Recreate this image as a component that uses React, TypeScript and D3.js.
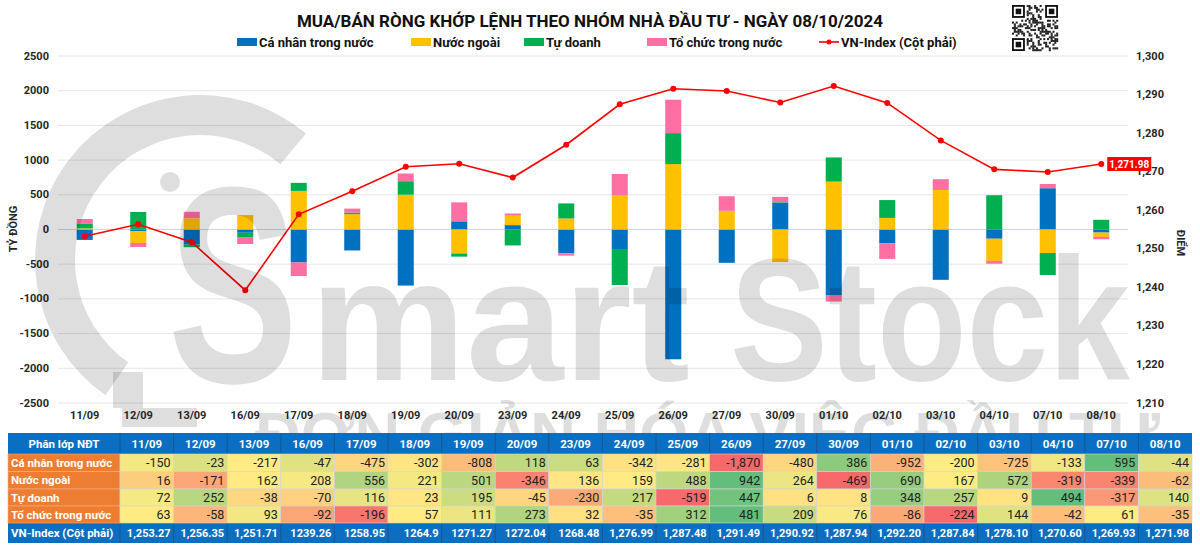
import React, { useEffect, useRef } from "react";
import * as d3 from "d3";

const dates = ["11/09","12/09","13/09","16/09","17/09","18/09","19/09","20/09","23/09","24/09","25/09","26/09","27/09","30/09","01/10","02/10","03/10","04/10","07/10","08/10"];
const caNhan = [-150,-23,-217,-47,-475,-302,-808,118,63,-342,-281,-1870,-480,386,-952,-200,-725,-133,595,-44];
const nuocNgoai = [16,-171,162,208,556,221,501,-346,136,159,488,942,264,-469,690,167,572,-319,-339,-62];
const tuDoanh = [72,252,-38,-70,116,23,195,-45,-230,217,-519,447,6,8,348,257,9,494,-317,140];
const toChuc = [63,-58,93,-92,-196,57,111,273,32,-35,312,481,209,76,-86,-224,144,-42,61,-35];
const vnIndex = [1253.27,1256.35,1251.71,1239.26,1258.95,1264.9,1271.27,1272.04,1268.48,1276.99,1287.48,1291.49,1290.92,1287.94,1292.2,1287.84,1278.1,1270.6,1269.93,1271.98];
const vnIndexLabels = ["1,253.27","1,256.35","1,251.71","1239.26","1258.95","1264.9","1271.27","1272.04","1268.48","1,276.99","1,287.48","1,291.49","1,290.92","1,287.94","1,292.20","1,287.84","1,278.10","1,270.60","1,269.93","1,271.98"];
const seriesNames = ["Cá nhân trong nước","Nước ngoài","Tự doanh","Tổ chức trong nước"];
const seriesColors = ["#0070C0","#FFC000","#00B050","#FF6FA3"];
const lineName = "VN-Index (Cột phải)";
const leftTicks = [2500,2000,1500,1000,500,0,-500,-1000,-1500,-2000,-2500];
const rightTicks = [1300,1290,1280,1270,1260,1250,1240,1230,1220,1210];
const title = "MUA/BÁN RÒNG KHỚP LỆNH THEO NHÓM NHÀ ĐẦU TƯ - NGÀY 08/10/2024";

const FONT = "Roboto, 'Noto Sans', Arial, sans-serif";
const WM_FONT = "'Liberation Sans', Arial, sans-serif";

export default function App() {
  const ref = useRef<SVGSVGElement | null>(null);
  useEffect(() => {
    const svg = d3.select(ref.current as SVGSVGElement);
    svg.selectAll("*").remove();
    const X0 = 58, X1 = 1128, YT = 56, YB = 403;
    const fmt = d3.formatLocale({ decimal: ".", thousands: ",", grouping: [3], currency: ["", ""], minus: "-" }).format(",");

    const x = d3.scaleBand<string>().domain(dates).range([X0, X1]).paddingInner(0.7).paddingOuter(0.35);
    const yL = d3.scaleLinear().domain([-2500, 2500]).range([YB, YT]);
    const yR = d3.scaleLinear().domain([1210, 1300]).range([YB, YT]);
    const cx = (d: string) => (x(d) as number) + x.bandwidth() / 2;

    svg.append("rect").attr("width", 1200).attr("height", 553).attr("fill", "#fff");

    // gridlines
    svg.append("g").selectAll("line").data(leftTicks).join("line")
      .attr("x1", X0).attr("x2", X1).attr("y1", (d) => yL(d)).attr("y2", (d) => yL(d))
      .attr("stroke", (d) => (d === 0 ? "#cdd6e4" : "#e6e6e6")).attr("stroke-width", 1);

    // left ticks
    svg.append("g").selectAll("text").data(leftTicks).join("text")
      .attr("x", 49).attr("y", (d) => yL(d)).attr("text-anchor", "end").attr("dominant-baseline", "central")
      .attr("font-family", FONT).attr("font-size", 11).attr("font-weight", 700).attr("fill", "#262626")
      .text((d) => String(d));
    // right ticks
    svg.append("g").selectAll("text").data(rightTicks).join("text")
      .attr("x", 1136).attr("y", (d) => yR(d)).attr("text-anchor", "start").attr("dominant-baseline", "central")
      .attr("font-family", FONT).attr("font-size", 11).attr("font-weight", 700).attr("fill", "#262626")
      .text((d) => fmt(d));
    // axis titles
    svg.append("text").attr("transform", "translate(13,229) rotate(-90)").attr("text-anchor", "middle")
      .attr("dominant-baseline", "central").attr("font-family", FONT).attr("font-size", 11).attr("font-weight", 700)
      .attr("fill", "#262626").text("TỶ ĐỒNG");
    svg.append("text").attr("transform", "translate(1180,243) rotate(90)").attr("text-anchor", "middle")
      .attr("dominant-baseline", "central").attr("font-family", FONT).attr("font-size", 11).attr("font-weight", 700)
      .attr("fill", "#262626").text("ĐIỂM");

    // stacked bars
    const rows = dates.map((d, i) => ({ date: d, s0: caNhan[i], s1: nuocNgoai[i], s2: tuDoanh[i], s3: toChuc[i] }));
    const keys = ["s0", "s1", "s2", "s3"];
    const stacked = d3.stack<any>().keys(keys).offset(d3.stackOffsetDiverging)(rows);
    const gb = svg.append("g");
    stacked.forEach((layer, li) => {
      gb.append("g").attr("fill", seriesColors[li]).selectAll("rect").data(layer).join("rect")
        .attr("x", (d: any) => x(d.data.date) as number)
        .attr("width", x.bandwidth())
        .attr("y", (d: any) => yL(Math.max(d[0], d[1])))
        .attr("height", (d: any) => Math.abs(yL(d[0]) - yL(d[1])));
    });

    // line
    const pts = dates.map((d, i) => [cx(d), yR(vnIndex[i])] as [number, number]);
    svg.append("path").attr("d", d3.line()(pts) as string).attr("fill", "none").attr("stroke", "#FF0000").attr("stroke-width", 1.6);
    svg.append("g").selectAll("circle").data(pts).join("circle")
      .attr("cx", (d) => d[0]).attr("cy", (d) => d[1]).attr("r", 3).attr("fill", "#FF0000");
    const last = pts[pts.length - 1];
    svg.append("rect").attr("x", last[0] + 6).attr("y", last[1] - 7).attr("width", 44).attr("height", 14).attr("fill", "#FF0000");
    svg.append("text").attr("x", last[0] + 28).attr("y", last[1]).attr("text-anchor", "middle").attr("dominant-baseline", "central")
      .attr("font-family", FONT).attr("font-size", 10).attr("font-weight", 700).attr("fill", "#fff")
      .text(vnIndexLabels[vnIndexLabels.length - 1]);

    // title
    svg.append("text").attr("x", 590).attr("y", 27).attr("text-anchor", "middle")
      .attr("font-family", FONT).attr("font-size", 17).attr("font-weight", 700).attr("fill", "#111").text(title);

    // legend
    const legX = [237, 411, 524, 647];
    const ly = 42;
    seriesNames.forEach((n, i) => {
      svg.append("rect").attr("x", legX[i]).attr("y", ly - 4).attr("width", 20).attr("height", 8).attr("fill", seriesColors[i]);
      svg.append("text").attr("x", legX[i] + 22).attr("y", ly).attr("dominant-baseline", "central")
        .attr("font-family", FONT).attr("font-size", 13).attr("font-weight", 700).attr("fill", "#111").text(n);
    });
    svg.append("line").attr("x1", 819).attr("x2", 839).attr("y1", ly).attr("y2", ly).attr("stroke", "#FF0000").attr("stroke-width", 1.6);
    svg.append("circle").attr("cx", 829).attr("cy", ly).attr("r", 2.5).attr("fill", "#FF0000");
    svg.append("text").attr("x", 841).attr("y", ly).attr("dominant-baseline", "central")
      .attr("font-family", FONT).attr("font-size", 13).attr("font-weight", 700).attr("fill", "#111").text(lineName);

    // QR-like decoration
    const qx = 1012, qy = 5, n = 25, ms = 46 / 25;
    const qr = svg.append("g");
    qr.append("rect").attr("x", qx - 1).attr("y", qy - 1).attr("width", 48).attr("height", 48).attr("fill", "#fff");
    const finder = (fx: number, fy: number) => {
      qr.append("rect").attr("x", qx + fx * ms).attr("y", qy + fy * ms).attr("width", 7 * ms).attr("height", 7 * ms).attr("fill", "#111");
      qr.append("rect").attr("x", qx + (fx + 1) * ms).attr("y", qy + (fy + 1) * ms).attr("width", 5 * ms).attr("height", 5 * ms).attr("fill", "#fff");
      qr.append("rect").attr("x", qx + (fx + 2) * ms).attr("y", qy + (fy + 2) * ms).attr("width", 3 * ms).attr("height", 3 * ms).attr("fill", "#111");
    };
    for (let i = 0; i < n; i++) {
      for (let j = 0; j < n; j++) {
        const inF = (i < 8 && j < 8) || (i > 16 && j < 8) || (i < 8 && j > 16);
        if (inF) continue;
        if ((i * 7 + j * 11 + ((i * j) % 5)) % 3 === 0 || (i + j * 3) % 7 === 1) {
          qr.append("rect").attr("x", qx + i * ms).attr("y", qy + j * ms).attr("width", ms + 0.2).attr("height", ms + 0.2).attr("fill", "#222");
        }
      }
    }
    finder(0, 0); finder(18, 0); finder(0, 18);

    // table
    const TX = 8, LW = 112, CW = (1192 - 120) / 20;
    const rowY = [433, 454, 471.5, 489, 506, 523, 543];
    const tb = svg.append("g");
    tb.append("rect").attr("x", TX).attr("y", rowY[0]).attr("width", 1192 - TX).attr("height", rowY[1] - rowY[0]).attr("fill", "#0A6FC2");
    tb.append("rect").attr("x", TX).attr("y", rowY[5]).attr("width", 1192 - TX).attr("height", rowY[6] - rowY[5]).attr("fill", "#0A6FC2");
    tb.append("text").attr("x", TX + LW / 2).attr("y", (rowY[0] + rowY[1]) / 2).attr("text-anchor", "middle").attr("dominant-baseline", "central")
      .attr("font-family", FONT).attr("font-size", 11.5).attr("font-weight", 700).attr("fill", "#fff").text("Phân lớp NĐT");
    dates.forEach((d, i) => {
      const x0 = 120 + i * CW;
      tb.append("line").attr("x1", x0).attr("x2", x0).attr("y1", rowY[0]).attr("y2", rowY[1]).attr("stroke", "#1d4f80").attr("stroke-width", 0.8);
      tb.append("line").attr("x1", x0).attr("x2", x0).attr("y1", rowY[5]).attr("y2", rowY[6]).attr("stroke", "#1d4f80").attr("stroke-width", 0.8);
      tb.append("text").attr("x", x0 + CW / 2).attr("y", (rowY[0] + rowY[1]) / 2).attr("text-anchor", "middle").attr("dominant-baseline", "central")
        .attr("font-family", FONT).attr("font-size", 11.5).attr("font-weight", 700).attr("fill", "#fff").text(d);
      tb.append("text").attr("x", x0 + CW - 3).attr("y", (rowY[5] + rowY[6]) / 2).attr("text-anchor", "end").attr("dominant-baseline", "central")
        .attr("font-family", FONT).attr("font-size", 11).attr("font-weight", 700).attr("fill", "#fff").text(vnIndexLabels[i]);
    });
    tb.append("text").attr("x", TX + 3).attr("y", (rowY[5] + rowY[6]) / 2).attr("dominant-baseline", "central")
      .attr("font-family", FONT).attr("font-size", 11.5).attr("font-weight", 700).attr("fill", "#fff").text(lineName);
    const series = [caNhan, nuocNgoai, tuDoanh, toChuc];
    series.forEach((vals, r) => {
      const y0 = rowY[r + 1], h = rowY[r + 2] - rowY[r + 1];
      const sorted = vals.slice().sort(d3.ascending);
      const mid = d3.quantile(sorted, 0.5) as number;
      const col = d3.scaleLinear<string>().domain([sorted[0], mid, sorted[sorted.length - 1]]).range(["#F8696B", "#FFEB84", "#63BE7B"]);
      tb.append("rect").attr("x", TX).attr("y", y0).attr("width", LW).attr("height", h).attr("fill", "#ED7D31").attr("stroke", "#f4b183").attr("stroke-width", 0.6);
      tb.append("text").attr("x", TX + 3).attr("y", y0 + h / 2).attr("dominant-baseline", "central")
        .attr("font-family", FONT).attr("font-size", 11.5).attr("font-weight", 700).attr("fill", "#fff").text(seriesNames[r]);
      vals.forEach((v, i) => {
        const x0 = 120 + i * CW;
        tb.append("rect").attr("x", x0).attr("y", y0).attr("width", CW).attr("height", h).attr("fill", col(v)).attr("stroke", "#d4d4d4").attr("stroke-width", 0.6);
        tb.append("text").attr("x", x0 + CW - 3).attr("y", y0 + h / 2).attr("text-anchor", "end").attr("dominant-baseline", "central")
          .attr("font-family", FONT).attr("font-size", 12.5).attr("fill", "#222").text(fmt(v));
      });
    });

    // watermark overlay
    const defs = svg.append("defs");
    defs.append("clipPath").attr("id", "wmclip").append("rect").attr("x", 0).attr("y", 0).attr("width", 1200).attr("height", 433);
    const wm = svg.append("g").attr("clip-path", "url(#wmclip)").attr("fill", "#000").attr("fill-opacity", 0.13);
    const ringArc = d3.arc()({ innerRadius: 125, outerRadius: 165, startAngle: (-145 * Math.PI) / 180, endAngle: (40 * Math.PI) / 180 } as any) as string;
    wm.append("path").attr("transform", "translate(200,260)").attr("d", ringArc);
    wm.append("circle").attr("cx", 170).attr("cy", 182).attr("r", 10);
    wm.append("rect").attr("x", 113).attr("y", 372).attr("width", 30).attr("height", 36);
    wm.append("rect").attr("x", 122).attr("y", 408).attr("width", 75).attr("height", 19);
    wm.append("text").attr("x", 168).attr("y", 382).attr("font-family", WM_FONT).attr("font-weight", 700).attr("font-size", 280)
      .attr("textLength", 130).attr("lengthAdjust", "spacingAndGlyphs").text("S");
    wm.append("text").attr("x", 310).attr("y", 380).attr("font-family", WM_FONT).attr("font-weight", 700).attr("font-size", 175)
      .attr("textLength", 380).attr("lengthAdjust", "spacingAndGlyphs").text("mart");
    wm.append("text").attr("x", 730).attr("y", 380).attr("font-family", WM_FONT).attr("font-weight", 700).attr("font-size", 175)
      .attr("textLength", 400).attr("lengthAdjust", "spacingAndGlyphs").text("Stock");
    wm.append("text").attr("x", 255).attr("y", 455).attr("font-family", WM_FONT).attr("font-weight", 700).attr("font-size", 62)
      .attr("textLength", 905).attr("lengthAdjust", "spacingAndGlyphs").text("ĐƠN GIẢN HÓA VIỆC ĐẦU TƯ");

    // x labels (on top)
    svg.append("g").selectAll("text").data(dates).join("text")
      .attr("x", (d) => cx(d)).attr("y", 415).attr("text-anchor", "middle").attr("dominant-baseline", "central")
      .attr("font-family", FONT).attr("font-size", 11).attr("font-weight", 700).attr("fill", "#262626")
      .text((d) => d);
  }, []);
  return (
    <svg ref={ref} width={1200} height={553} style={{ position: "absolute", left: 0, top: 0, display: "block", background: "#fff" }} />
  );
}
